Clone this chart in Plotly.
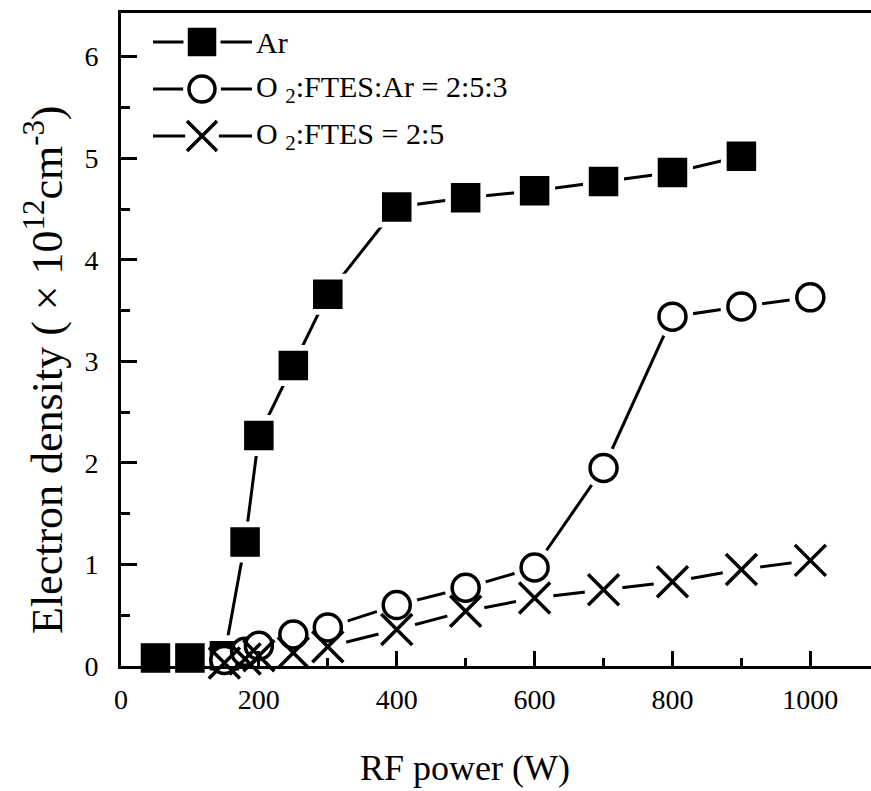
import plotly.graph_objects as go

# ---- data ----
power_ar = [50, 100, 150, 180, 200, 250, 300, 400, 500, 600, 700, 800, 900]
dens_ar = [0.08, 0.08, 0.10, 1.22, 2.27, 2.96, 3.66, 4.52, 4.61, 4.68, 4.77, 4.86, 5.02]

power_o2ftesar = [150, 180, 200, 250, 300, 400, 500, 600, 700, 800, 900, 1000]
dens_o2ftesar = [0.06, 0.14, 0.20, 0.31, 0.38, 0.60, 0.77, 0.97, 1.95, 3.44, 3.54, 3.63]

power_o2ftes = [150, 180, 200, 250, 300, 400, 500, 600, 700, 800, 900, 1000]
dens_o2ftes = [0.03, 0.07, 0.10, 0.13, 0.19, 0.36, 0.54, 0.67, 0.75, 0.83, 0.95, 1.04]

series_names = ["Ar", "O <sub>2</sub>:FTES:Ar = 2:5:3", "O <sub>2</sub>:FTES = 2:5"]

x_ticks = [0, 200, 400, 600, 800, 1000]
y_ticks = [0, 1, 2, 3, 4, 5, 6]

FONT = "Liberation Serif, Times New Roman, DejaVu Serif, serif"
BLACK = "black"

series = [
    dict(x=power_ar, y=dens_ar, sym="square", size=28, lw=1.5, fill=BLACK, halo="square", hsize=41),
    dict(x=power_o2ftesar, y=dens_o2ftesar, sym="circle", size=27, lw=3.5, fill="white", halo="circle", hsize=42),
    dict(x=power_o2ftes, y=dens_o2ftes, sym="x-thin-open", size=31, lw=3.5, fill=BLACK, halo="circle", hsize=38),
]

fig = go.Figure()

# lines
for s in series:
    fig.add_trace(go.Scatter(x=s["x"], y=s["y"], mode="lines",
                             line=dict(color=BLACK, width=3), showlegend=False, hoverinfo="skip"))
# white halos giving the gap between lines and markers
for s in series:
    fig.add_trace(go.Scatter(x=s["x"], y=s["y"], mode="markers", cliponaxis=False,
                             marker=dict(symbol=s["halo"], size=s["hsize"], color="white", line=dict(width=0)),
                             showlegend=False, hoverinfo="skip"))
# markers
for s in series:
    fig.add_trace(go.Scatter(x=s["x"], y=s["y"], mode="markers", cliponaxis=False,
                             marker=dict(symbol=s["sym"], size=s["size"], color=s["fill"],
                                         line=dict(color=BLACK, width=s["lw"])),
                             showlegend=False))

# ---- manual legend on an overlay axis in pixel-like coords ----
leg_rows = [42, 89, 136]
leg_x0, leg_xm, leg_x1, leg_text = 153, 202, 252, 254
for i, s in enumerate(series):
    yy = leg_rows[i]
    fig.add_trace(go.Scatter(x=[leg_x0, leg_x1], y=[yy, yy], mode="lines", xaxis="x2", yaxis="y2",
                             line=dict(color=BLACK, width=3), showlegend=False, hoverinfo="skip"))
    fig.add_trace(go.Scatter(x=[leg_xm], y=[yy], mode="markers", xaxis="x2", yaxis="y2",
                             marker=dict(symbol=s["halo"], size=s["hsize"] - 4, color="white", line=dict(width=0)),
                             showlegend=False, hoverinfo="skip", cliponaxis=False))
    fig.add_trace(go.Scatter(x=[leg_xm], y=[yy], mode="markers", xaxis="x2", yaxis="y2",
                             marker=dict(symbol=s["sym"], size=s["size"] - 1, color=s["fill"],
                                         line=dict(color=BLACK, width=s["lw"])),
                             showlegend=False, hoverinfo="skip", cliponaxis=False))
    fig.add_annotation(x=leg_text, y=yy, xref="x2", yref="y2", text=series_names[i],
                       showarrow=False, xanchor="left", yanchor="middle",
                       font=dict(family=FONT, size=30, color=BLACK))

fig.update_layout(
    width=871, height=791,
    margin=dict(l=121, r=0, t=13, b=125),
    paper_bgcolor="white", plot_bgcolor="white",
    font=dict(family=FONT, color=BLACK),
    xaxis=dict(range=[0, 1088], tickvals=x_ticks, ticktext=[str(v) for v in x_ticks],
               ticks="inside", ticklen=15, tickwidth=3, tickcolor=BLACK,
               minor=dict(dtick=100, tick0=0, ticks="inside", ticklen=8, tickwidth=3, tickcolor=BLACK),
               showline=True, linewidth=3, linecolor=BLACK, mirror=True,
               showgrid=False, zeroline=False, tickfont=dict(family=FONT, size=28),
               ticklabelstandoff=6),
    yaxis=dict(range=[0, 6.43], tickvals=y_ticks, ticktext=[str(v) for v in y_ticks],
               ticks="inside", ticklen=16, tickwidth=3, tickcolor=BLACK,
               minor=dict(dtick=0.5, tick0=0, ticks="inside", ticklen=9, tickwidth=3, tickcolor=BLACK),
               showline=True, linewidth=3, linecolor=BLACK,
               showgrid=False, zeroline=False, tickfont=dict(family=FONT, size=28),
               ticklabelstandoff=14),
    xaxis2=dict(range=[121, 871], overlaying="x", visible=False, fixedrange=True),
    yaxis2=dict(range=[666, 13], overlaying="y", visible=False, fixedrange=True),
    showlegend=False,
)

fig.add_annotation(x=(465 - 121) / 750, y=(666 - 768) / 653, xref="paper", yref="paper",
                   text="RF power (W)", showarrow=False, xanchor="center", yanchor="middle",
                   font=dict(family=FONT, size=36, color=BLACK))
fig.add_annotation(x=(45 - 121) / 750, y=(666 - 370) / 653, xref="paper", yref="paper",
                   text="Electron density ( \u00d7 10<sup>12</sup>cm<sup>-3</sup>)", textangle=-90,
                   showarrow=False, xanchor="center", yanchor="middle",
                   font=dict(family=FONT, size=44, color=BLACK))

fig.write_html("out.html")
